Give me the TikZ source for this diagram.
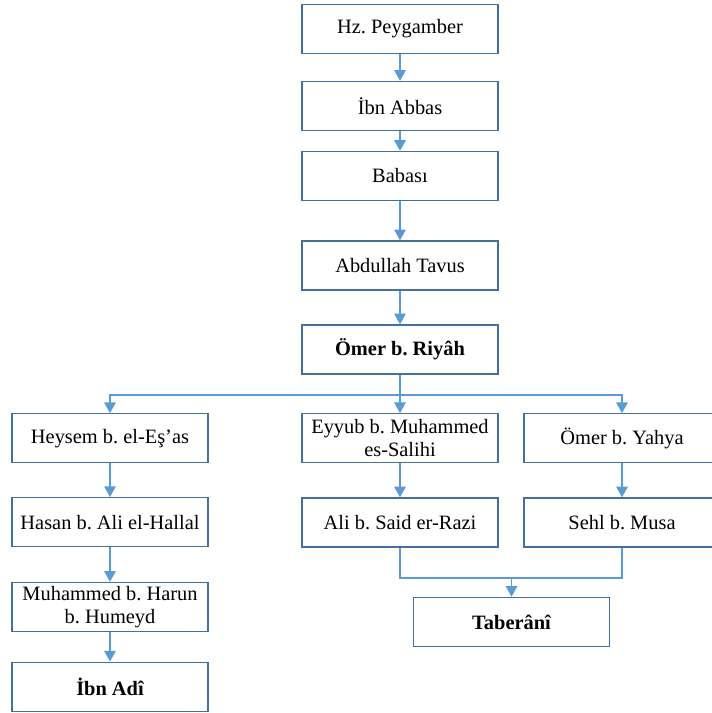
\documentclass[tikz,border=0pt]{standalone}
\usepackage{fontspec}
\setmainfont{Liberation Serif}
\usepackage{tikz}
\usetikzlibrary{arrows.meta}

\definecolor{boxline}{HTML}{41719C}
\definecolor{linkline}{HTML}{5B9BD5}
\frenchspacing

\begin{document}
\begin{tikzpicture}[x=0.75pt, y=-0.75pt,
  every node/.style={font=\fontsize{15.3}{17.5}\selectfont},
  ravi/.style={draw=boxline, line width=1pt, fill=white, minimum width=147pt,
    minimum height=36.75pt, inner sep=2pt, align=center},
  link/.style={draw=linkline, line width=1.4pt},
  linkarrow/.style={link, -{Triangle[width=8.5pt, length=8pt]}}]
  \useasboundingbox (0,0) rectangle (711,713);

  \node[ravi] (peygamber) at (400,29) {Hz. Peygamber};
  \node[ravi] (abbas) at (400,106) {İbn Abbas};
  \node[ravi] (babasi) at (400,176) {Babası};
  \node[ravi] (tavus) at (400,265.5) {Abdullah Tavus};
  \node[ravi] (riyah) at (400,349.5) {\bfseries Ömer b. Riyâh};

  \node[ravi] (heysem) at (110,438.3) {Heysem b. el-Eş’as};
  \node[ravi] (hasan) at (110,522.2) {Hasan b. Ali el-Hallal};
  \node[ravi] (harun) at (110,607) {Muhammed b. Harun\\b. Humeyd};
  \node[ravi] (adi) at (110,686.7) {\bfseries İbn Adî};

  \node[ravi] (eyyub) at (400,438.3) {Eyyub b. Muhammed\\es-Salihi};
  \node[ravi] (razi) at (400,522.5) {Ali b. Said er-Razi};

  \node[ravi] (yahya) at (622,438.3) {Ömer b. Yahya};
  \node[ravi] (sehl) at (622,522.5) {Sehl b. Musa};

  \node[ravi] (taberani) at (511.5,622) {\bfseries Taberânî};

  \coordinate (split) at (400,395);
  \coordinate (join) at (511.5,578);

  \draw[linkarrow] (peygamber) -- (abbas);
  \draw[linkarrow] (abbas) -- (babasi);
  \draw[linkarrow] (babasi) -- (tavus);
  \draw[linkarrow] (tavus) -- (riyah);
  \draw[link] (riyah) -- (split);
  \draw[linkarrow] (split) -| (heysem);
  \draw[linkarrow] (split) -- (eyyub);
  \draw[linkarrow] (split) -| (yahya);

  \draw[linkarrow] (heysem) -- (hasan);
  \draw[linkarrow] (hasan) -- (harun);
  \draw[linkarrow] (harun) -- (adi);
  \draw[linkarrow] (eyyub) -- (razi);
  \draw[linkarrow] (yahya) -- (sehl);

  \draw[link] (razi) |- (join);
  \draw[link] (sehl) |- (join);
  \draw[linkarrow] (join) -- (taberani);
\end{tikzpicture}
\end{document}
